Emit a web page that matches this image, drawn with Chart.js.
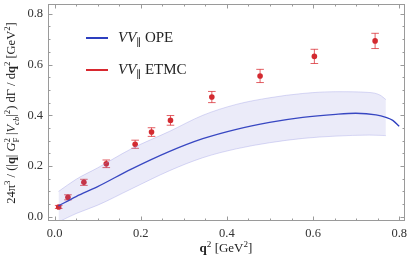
<!DOCTYPE html>
<html>
<head>
<meta charset="utf-8">
<script src="https://cdn.jsdelivr.net/npm/chart.js@4.4.1/dist/chart.umd.min.js"></script>
<style>
  html, body { margin:0; padding:0; background:#fff; }
  #wrap { position:relative; width:409px; height:267px; overflow:hidden; font-family:"Liberation Serif","DejaVu Serif",serif; color:#222; font-weight:normal; }
  canvas { position:absolute; left:0; top:0; }
  .ytitle { position:absolute; left:0; top:0; width:220px; height:18px; line-height:18px; text-align:center;
            transform-origin:0 0; transform:translate(2px,223px) rotate(-90deg); white-space:nowrap; font-size:12.5px; }
  .xtitle { position:absolute; left:176px; top:240px; width:100px; text-align:center; white-space:nowrap; font-size:13px; }
  .leg { position:absolute; left:86px; white-space:nowrap; font-size:15px; }
  .leg .ln { position:absolute; left:0; width:22px; height:2px; top:-1px; }
  .leg .tx { position:absolute; left:32px; top:-9px; }
  sub, sup { font-size:70%; line-height:0; }
  i { font-style:italic; }
</style>
</head>
<body>
<div id="wrap">
  <canvas id="c" width="409" height="267"></canvas>
  <div class="ytitle">24π<sup>3</sup> / (|<b>q</b>| <i>G</i><sub>F</sub><sup style="margin-left:-5px">2</sup> |<i>V</i><sub><i>cb</i></sub>|<sup>2</sup>) dΓ / d<b>q</b><sup>2</sup> [GeV<sup>2</sup>]</div>
  <div class="xtitle"><b>q</b><sup>2</sup> [GeV<sup>2</sup>]</div>
  <div class="leg" style="top:38px"><div class="ln" style="background:#2d3fbf"></div><div class="tx"><i>VV</i><sub>∥</sub> OPE</div></div>
  <div class="leg" style="top:70px"><div class="ln" style="background:#d8282f"></div><div class="tx"><i>VV</i><sub>∥</sub> ETMC</div></div>
</div>
<script>
// ---- data ----
const etmcQ2   = [0.0095, 0.031, 0.068, 0.120, 0.187, 0.225, 0.269, 0.365, 0.477, 0.603, 0.744];
const etmcVal  = [0.039, 0.077, 0.136, 0.209, 0.286, 0.334, 0.380, 0.472, 0.555, 0.632, 0.693];
const etmcErr  = [0.006, 0.010, 0.012, 0.015, 0.016, 0.017, 0.019, 0.022, 0.026, 0.028, 0.030];

const opeQ2    = [0.009, 0.05, 0.10, 0.178, 0.267, 0.344, 0.422, 0.499, 0.576, 0.653, 0.699, 0.746, 0.769, 0.785, 0.800];
const opeVal   = [0.043, 0.080, 0.119, 0.188, 0.258, 0.308, 0.345, 0.372, 0.392, 0.404, 0.408, 0.402, 0.392, 0.380, 0.357];

const bandQ2    = [0.009, 0.05, 0.10, 0.178, 0.267, 0.344, 0.422, 0.499, 0.576, 0.653, 0.730, 0.755, 0.769];
const bandUpper = [0.100, 0.148, 0.193, 0.268, 0.337, 0.400, 0.443, 0.469, 0.486, 0.493, 0.490, 0.480, 0.462];
const bandLower = [-0.020, 0.013, 0.046, 0.110, 0.182, 0.233, 0.268, 0.292, 0.309, 0.318, 0.322, 0.321, 0.320];

const xTicks = [0.0, 0.2, 0.4, 0.6, 0.8];
const yTicks = [0.0, 0.2, 0.4, 0.6, 0.8];

const pts = (xs, ys) => xs.map((x, i) => ({x, y: ys[i]}));

const frameTicks = {
  id: 'frameTicks',
  afterDraw(chart) {
    const {ctx, chartArea: a, scales: {x, y}} = chart;
    ctx.save();
    ctx.strokeStyle = '#9a9a9a';
    ctx.lineWidth = 1;
    ctx.strokeRect(a.left + 0.5, a.top + 0.5, a.right - a.left - 1, a.bottom - a.top - 1);
    ctx.beginPath();
    for (let k = 0; k <= 16; k++) {
      const v = k * 0.05;
      const px = Math.round(x.getPixelForValue(v)) + 0.5;
      if (px > a.right) continue;
      const len = (k % 4 === 0) ? 4.5 : 2.5;
      ctx.moveTo(px, a.bottom); ctx.lineTo(px, a.bottom - len);
      ctx.moveTo(px, a.top); ctx.lineTo(px, a.top + len);
    }
    for (let k = 0; k <= 16; k++) {
      const v = k * 0.05;
      const py = Math.round(y.getPixelForValue(v)) + 0.5;
      if (py < a.top) continue;
      const len = (k % 4 === 0) ? 4.5 : 2.5;
      ctx.moveTo(a.left, py); ctx.lineTo(a.left + len, py);
      ctx.moveTo(a.right, py); ctx.lineTo(a.right - len, py);
    }
    ctx.stroke();
    ctx.restore();
  }
};

const errorBars = {
  id: 'errorBars',
  beforeDatasetDraw(chart, args) {
    if (args.index !== 3) return;
    const {ctx, scales: {x, y}} = chart;
    ctx.save();
    ctx.strokeStyle = 'rgba(216,40,47,0.75)';
    ctx.lineWidth = 1;
    ctx.beginPath();
    etmcQ2.forEach((q, i) => {
      const px = x.getPixelForValue(q);
      const y1 = y.getPixelForValue(etmcVal[i] + etmcErr[i]);
      const y2 = y.getPixelForValue(etmcVal[i] - etmcErr[i]);
      ctx.moveTo(px, y1); ctx.lineTo(px, y2);
      ctx.moveTo(px - 3.8, y1); ctx.lineTo(px + 3.8, y1);
      ctx.moveTo(px - 3.8, y2); ctx.lineTo(px + 3.8, y2);
    });
    ctx.stroke();
    ctx.restore();
  }
};

new Chart(document.getElementById('c'), {
  type: 'scatter',
  data: {
    datasets: [
      { type: 'line', data: pts(bandQ2, bandUpper), borderColor: 'rgba(150,150,225,0.35)', borderWidth: 1,
        pointRadius: 0, fill: false, tension: 0.4, cubicInterpolationMode: 'monotone' },
      { type: 'line', data: pts(bandQ2, bandLower), borderColor: 'rgba(150,150,225,0.35)', borderWidth: 1,
        backgroundColor: 'rgba(120,120,215,0.15)', pointRadius: 0, fill: '-1', tension: 0.4, cubicInterpolationMode: 'monotone' },
      { type: 'line', data: pts(opeQ2, opeVal), borderColor: '#2d3fbf', borderWidth: 1.3,
        pointRadius: 0, fill: false, tension: 0.4, cubicInterpolationMode: 'monotone' },
      { type: 'scatter', data: pts(etmcQ2, etmcVal), backgroundColor: '#d32a30', borderWidth: 0, pointRadius: 2.8 }
    ]
  },
  options: {
    responsive: false,
    animation: false,
    events: [],
    layout: { padding: { top: 1, right: 3, left: 0, bottom: 0 } },
    plugins: { legend: { display: false }, tooltip: { enabled: false } },
    scales: {
      x: {
        type: 'linear', min: -0.0153, max: 0.8134,
        afterFit(s) { s.height = 46; s.paddingLeft = 0; s.paddingRight = 0; },
        afterBuildTicks(s) { s.ticks = xTicks.map(v => ({value: v})); },
        grid: { display: false, drawTicks: false }, border: { display: false },
        ticks: { padding: 5, color: '#333', font: { family: 'Liberation Serif', size: 12.5 }, callback: v => v.toFixed(1), maxRotation: 0 }
      },
      y: {
        type: 'linear', min: -0.0163, max: 0.8384,
        afterFit(s) { s.width = 48; s.paddingTop = 0; s.paddingBottom = 0; },
        afterBuildTicks(s) { s.ticks = yTicks.map(v => ({value: v})); },
        grid: { display: false, drawTicks: false }, border: { display: false },
        ticks: { padding: 5, color: '#333', font: { family: 'Liberation Serif', size: 12.5 }, callback: v => v.toFixed(1) }
      }
    }
  },
  plugins: [errorBars, frameTicks]
});
</script>
</body>
</html>
